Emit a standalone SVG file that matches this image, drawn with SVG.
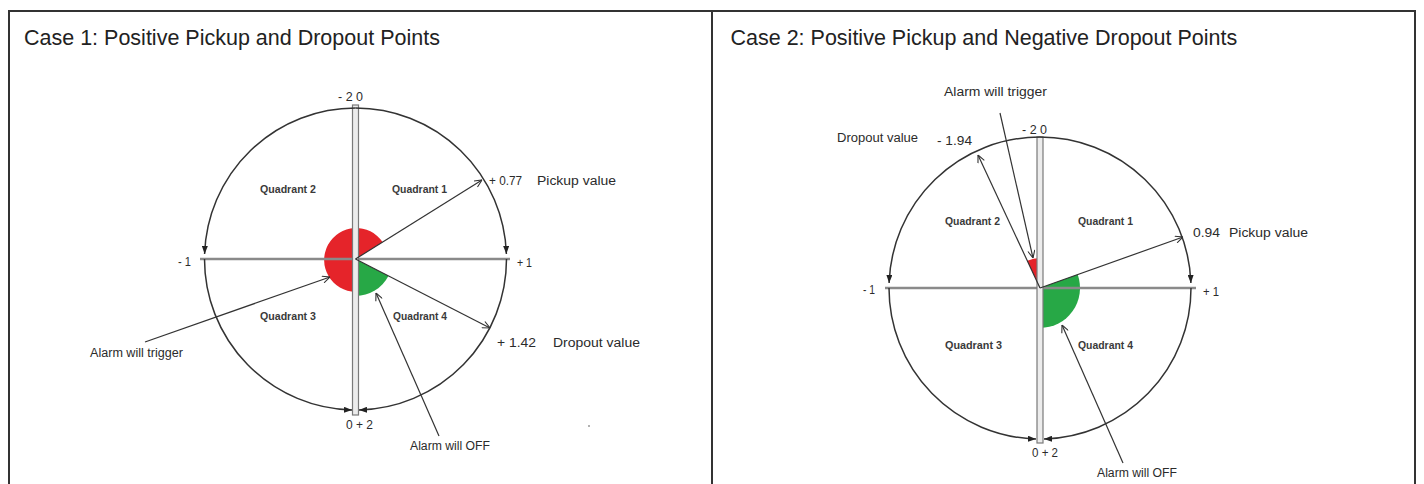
<svg xmlns="http://www.w3.org/2000/svg" width="1424" height="484" viewBox="0 0 1424 484">
<style>
.title{font-family:"Liberation Sans",Arial,sans-serif;font-size:21.5px;fill:#222}
.lbl{font-family:"Liberation Sans",Arial,sans-serif;font-size:12px;fill:#2b2b2b}
.big{font-size:13px}
.quad{font-family:"Liberation Sans",Arial,sans-serif;font-size:10.5px;font-weight:bold;fill:#3a3a3a}
.arc{fill:none;stroke:#333;stroke-width:1.5;marker-end:url(#solid)}
.ptr{fill:none;stroke:#333;stroke-width:1.2;marker-end:url(#open)}
.hline{stroke:#8a8a8a;stroke-width:2.4}
.bar{fill:#ececec;stroke:#7a7a7a;stroke-width:1.2}
.red{fill:#e5242a}
.green{fill:#27a846}
</style>
<defs>
<marker id="solid" viewBox="0 0 8 6" refX="8" refY="3" markerWidth="8" markerHeight="6" markerUnits="userSpaceOnUse" orient="auto"><path d="M0,0 L8,3 L0,6 Z" fill="#222"/></marker>
<marker id="open" viewBox="0 0 8 8" refX="8" refY="4" markerWidth="8" markerHeight="8" markerUnits="userSpaceOnUse" orient="auto"><path d="M0.5,0.5 L8,4 L0.5,7.5" fill="none" stroke="#333" stroke-width="1.1"/></marker>
</defs>
<rect x="0" y="0" width="1424" height="484" fill="#fff"/>
<g id="frame">
<rect x="9" y="11" width="1406" height="490" fill="#fff" stroke="#333" stroke-width="2"/>
<line x1="712" y1="11" x2="712" y2="484" stroke="#333" stroke-width="2"/>
</g>
<g id="panel1-title"><text class="title" x="24" y="45">Case 1: Positive Pickup and Dropout Points</text></g>
<g id="panel2-title"><text class="title" x="730.5" y="45">Case 2: Positive Pickup and Negative Dropout Points</text></g>

<!-- Panel 1 -->
<g id="p1-sectors">
<path class="red" d="M355.5,259 L382.6,242 A32,32 0 1 0 355.5,292 Z"/>
<path class="green" d="M355.5,259 L355.5,296 A37,37 0 0 0 388.4,276 Z"/>
</g>
<g id="p1-axes">
<line class="hline" x1="200" y1="259" x2="510" y2="259"/>
<rect class="bar" x="352.5" y="105" width="6" height="310"/>
</g>
<g id="p1-dot"><circle cx="589" cy="426" r="1" fill="#999"/></g>
<g id="p1-labels">
<text class="lbl" x="338" y="100.5" textLength="25" lengthAdjust="spacingAndGlyphs">- 2 0</text>
<text class="lbl" x="178" y="266" textLength="13" lengthAdjust="spacingAndGlyphs">- 1</text>
<text class="lbl" x="517" y="267" textLength="15" lengthAdjust="spacingAndGlyphs">+ 1</text>
<text class="lbl" x="346" y="429" textLength="27" lengthAdjust="spacingAndGlyphs">0 + 2</text>
<text class="lbl" x="489" y="184.5" textLength="33" lengthAdjust="spacingAndGlyphs">+ 0.77</text>
<text class="lbl" x="537" y="184.5" textLength="79" lengthAdjust="spacingAndGlyphs">Pickup value</text>
<text class="lbl big" x="497" y="347" textLength="39" lengthAdjust="spacingAndGlyphs">+ 1.42</text>
<text class="lbl" x="553" y="347" textLength="87" lengthAdjust="spacingAndGlyphs">Dropout value</text>
<text class="lbl" x="90" y="357" textLength="93" lengthAdjust="spacingAndGlyphs">Alarm will trigger</text>
<text class="lbl" x="410" y="450" textLength="80" lengthAdjust="spacingAndGlyphs">Alarm will OFF</text>
</g>
<g id="p1-q1"><text class="quad" x="392" y="192.5" textLength="55" lengthAdjust="spacingAndGlyphs">Quadrant 1</text></g>
<g id="p1-q2"><text class="quad" x="260" y="192.5" textLength="56" lengthAdjust="spacingAndGlyphs">Quadrant 2</text></g>
<g id="p1-q3"><text class="quad" x="260" y="319.5" textLength="56" lengthAdjust="spacingAndGlyphs">Quadrant 3</text></g>
<g id="p1-q4"><text class="quad" x="393" y="319.5" textLength="54" lengthAdjust="spacingAndGlyphs">Quadrant 4</text></g>

<!-- Panel 2 -->
<g id="p2-sectors">
<path class="red" d="M1040,288 L1040,258 A30,30 0 0 0 1027.3,260.8 Z"/>
<path class="green" d="M1040,288 L1077.7,274.6 A40,40 0 0 1 1040,328 Z"/>
</g>
<g id="p2-axes">
<line class="hline" x1="885" y1="288" x2="1196" y2="288"/>
<rect class="bar" x="1037" y="137" width="6" height="306"/>
</g>
<g id="p2-labels">
<text class="lbl" x="944" y="96" textLength="103" lengthAdjust="spacingAndGlyphs">Alarm will trigger</text>
<text class="lbl" x="837" y="142" textLength="81" lengthAdjust="spacingAndGlyphs">Dropout value</text>
<text class="lbl big" x="937" y="145" textLength="35" lengthAdjust="spacingAndGlyphs">- 1.94</text>
<text class="lbl" x="1022" y="134" textLength="25" lengthAdjust="spacingAndGlyphs">- 2 0</text>
<text class="lbl" x="863" y="294" textLength="12" lengthAdjust="spacingAndGlyphs">- 1</text>
<text class="lbl" x="1203" y="296" textLength="16" lengthAdjust="spacingAndGlyphs">+ 1</text>
<text class="lbl" x="1032" y="457" textLength="26" lengthAdjust="spacingAndGlyphs">0 + 2</text>
<text class="lbl" x="1097" y="477" textLength="80" lengthAdjust="spacingAndGlyphs">Alarm will OFF</text>
<text class="lbl big" x="1193" y="236.5" textLength="27" lengthAdjust="spacingAndGlyphs">0.94</text>
<text class="lbl" x="1229" y="236.5" textLength="79" lengthAdjust="spacingAndGlyphs">Pickup value</text>
</g>
<g id="p2-q1"><text class="quad" x="1078" y="224.5" textLength="55" lengthAdjust="spacingAndGlyphs">Quadrant 1</text></g>
<g id="p2-q2"><text class="quad" x="945" y="224.5" textLength="55" lengthAdjust="spacingAndGlyphs">Quadrant 2</text></g>
<g id="p2-q3"><text class="quad" x="945" y="348.5" textLength="57" lengthAdjust="spacingAndGlyphs">Quadrant 3</text></g>
<g id="p2-q4"><text class="quad" x="1078" y="348.5" textLength="55" lengthAdjust="spacingAndGlyphs">Quadrant 4</text></g>

<g id="connectors">
<path class="arc" d="M355.5,108 A151,151 0 0 1 506.4,254"/>
<path class="arc" d="M355.5,108 A151,151 0 0 0 204.6,254"/>
<path class="arc" d="M506.5,259 A151,151 0 0 1 359,409.96"/>
<path class="arc" d="M204.5,259 A151,151 0 0 0 352,409.96"/>
<line class="ptr" x1="355.5" y1="259" x2="482" y2="180"/>
<line class="ptr" x1="355.5" y1="259" x2="490" y2="328"/>
<line class="ptr" x1="145" y1="342" x2="330" y2="277"/>
<line class="ptr" x1="439" y1="436" x2="376" y2="293"/>

<path class="arc" d="M1040,137 A151,151 0 0 1 1190.9,283"/>
<path class="arc" d="M1040,137 A151,151 0 0 0 889.1,283"/>
<path class="arc" d="M1191,288 A151,151 0 0 1 1044,438.95"/>
<path class="arc" d="M889,288 A151,151 0 0 0 1036,438.95"/>
<line class="ptr" x1="1040" y1="288" x2="1183" y2="237"/>
<line class="ptr" x1="1040" y1="288" x2="978" y2="155"/>
<line class="ptr" x1="1000" y1="113" x2="1033" y2="258"/>
<line class="ptr" x1="1123" y1="463" x2="1062" y2="325"/>
</g>
</svg>
